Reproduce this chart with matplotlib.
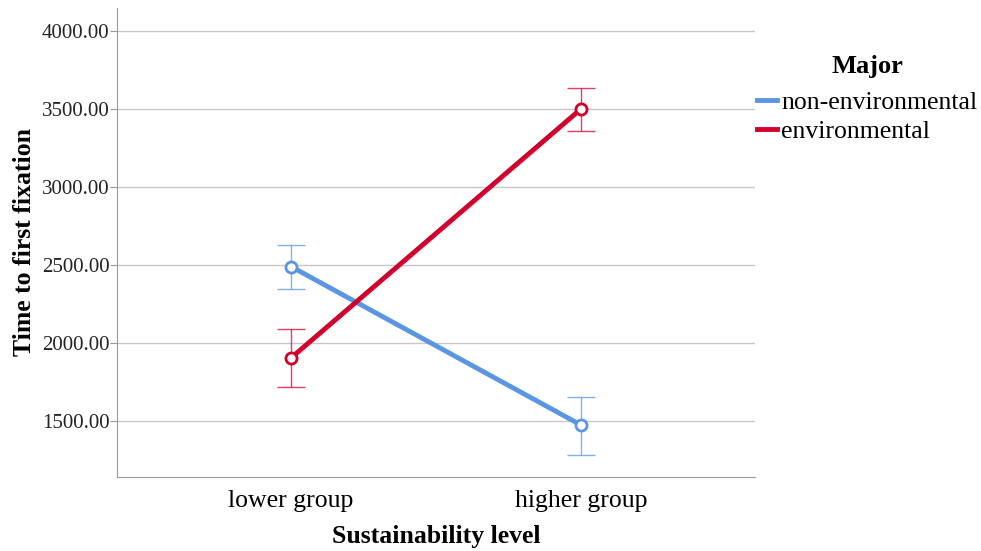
import numpy as np
import matplotlib.pyplot as plt

plt.rcParams['font.family'] = ['Liberation Serif', 'DejaVu Serif']

# Data
groups = ['lower group', 'higher group']
non_env_mean = [2490, 1474]
non_env_lo = [2346, 1282]
non_env_hi = [2628, 1654]
env_mean = [1904, 3500]
env_lo = [1718, 3359]
env_hi = [2090, 3635]
y_ticks = [1500, 2000, 2500, 3000, 3500, 4000]

blue = '#5A96E2'
red = '#D2002D'

fig = plt.figure(figsize=(9.81, 5.51), dpi=100)
ax = fig.add_axes([117/981, 1 - 477/551, (755 - 117)/981, (477 - 8)/551])

x = np.arange(len(groups))
series = [
    ('non-environmental', non_env_mean, non_env_lo, non_env_hi, blue),
    ('environmental', env_mean, env_lo, env_hi, red),
]
for name, m, lo, hi, c in series:
    m = np.array(m)
    err = [m - np.array(lo), np.array(hi) - m]
    ax.errorbar(x, m, yerr=err, fmt='none', ecolor=c, elinewidth=1,
                capsize=10, capthick=1, alpha=0.75, zorder=3)
    ax.plot(x, m, color=c, lw=3.5, label=name, zorder=4)
    ax.plot(x, m, 'o', ms=8, mfc='white', mec=c, mew=2, zorder=5)

ax.set_xlim(-0.6, 1.6)
ax.set_ylim(1141, 4147)
ax.set_xticks(x)
ax.set_xticklabels(groups, fontsize=18.5)
ax.set_yticks(y_ticks)
ax.set_yticklabels([f'{v:.2f}' for v in y_ticks], fontsize=15, color='#222222')
ax.yaxis.grid(True, color='#C8C8C8', lw=1)
ax.set_axisbelow(True)
for s in ['top', 'right']:
    ax.spines[s].set_visible(False)
for s in ['left', 'bottom']:
    ax.spines[s].set_color('#999999')
ax.tick_params(axis='x', length=0, pad=9)
ax.tick_params(axis='y', length=5, color='#999999', pad=0.5)

ax.set_xlabel('Sustainability level', fontsize=18.5, fontweight='bold', labelpad=10)
ax.set_ylabel('Time to first fixation', fontsize=18.5, fontweight='bold', labelpad=4)

leg = ax.legend(title='Major', loc='upper left', bbox_to_anchor=(1.003, 0.899),
                frameon=False, fontsize=18.5, handlelength=0.8, handletextpad=0.15,
                labelspacing=0.25, borderaxespad=0, borderpad=0)
leg.get_title().set_fontweight('bold')
leg.get_title().set_fontsize(19)
leg._legend_box.sep = 9  # a bit more room under the title

fig.savefig('out.png', dpi=100)
